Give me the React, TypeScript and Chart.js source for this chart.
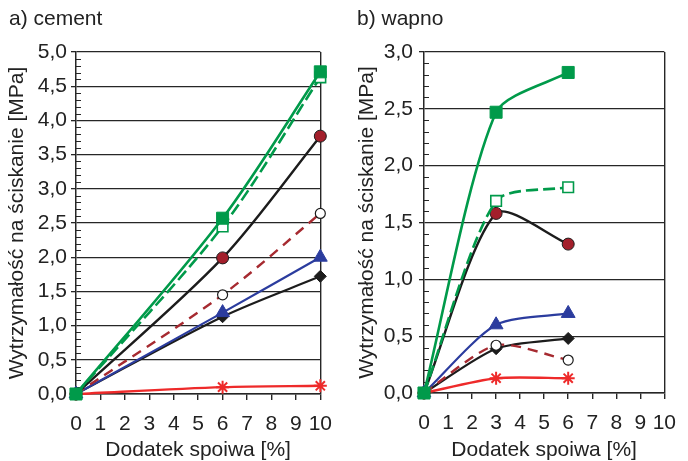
import React, { useEffect, useRef } from 'react';
import { Chart, registerables } from 'chart.js';

Chart.register(...registerables);

const FONT = "'Liberation Sans', Arial, Helvetica, sans-serif";

// ---- data ----
const xTickValues = [0, 1, 2, 3, 4, 5, 6, 7, 8, 9, 10];

const cementDose = [0, 6, 10];
const cementSquareFilled = [0, 2.57, 4.71];
const cementSquareOpen = [0, 2.45, 4.63];
const cementCircleFilled = [0, 1.99, 3.77];
const cementCircleOpen = [0, 1.45, 2.64];
const cementTriangle = [0, 1.19, 2.0];
const cementDiamond = [0, 1.13, 1.72];
const cementStar = [0, 0.1, 0.12];

const limeDose = [0, 3, 6];
const limeSquareFilled = [0, 2.47, 2.82];
const limeSquareOpen = [0, 1.69, 1.81];
const limeCircleFilled = [0, 1.58, 1.31];
const limeCircleOpen = [0, 0.42, 0.29];
const limeTriangle = [0, 0.6, 0.7];
const limeDiamond = [0, 0.39, 0.48];
const limeStar = [0, 0.13, 0.13];

const cementTitle = 'a) cement';
const limeTitle = 'b) wapno';
const yAxisTitle = 'Wytrzymałość na ściskanie [MPa]';
const xAxisTitle = 'Dodatek spoiwa [%]';

// ---- styles ----
const GREEN = '#009a4a';
const BLACK = '#1c1c1c';
const DARKRED = '#a31f2b';
const BROWN = '#a62a30';
const BLUE = '#2b3c9e';
const RED = '#ee2a2a';
const GRID = '#262626';
const TEXT = '#222222';
const FS = 21;

type Style = {
  line: string;
  dash: number[];
  width: number;
  marker: string;
  r: number;
  fill: string;
  border: string;
  borderW: number;
};

const styleSquareFilled: Style = { line: GREEN, dash: [], width: 2.6, marker: 'rect', r: 8.5, fill: GREEN, border: GREEN, borderW: 1 };
const styleSquareOpen: Style = { line: GREEN, dash: [12, 5], width: 2.6, marker: 'rect', r: 7.5, fill: '#ffffff', border: GREEN, borderW: 1.6 };
const styleCircleFilled: Style = { line: BLACK, dash: [], width: 2.4, marker: 'circle', r: 6, fill: DARKRED, border: BLACK, borderW: 1 };
const styleCircleOpen: Style = { line: BROWN, dash: [10, 7], width: 2.4, marker: 'circle', r: 5, fill: '#ffffff', border: BLACK, borderW: 1.2 };
const styleTriangle: Style = { line: BLUE, dash: [], width: 2.2, marker: 'triangle', r: 8, fill: BLUE, border: BLUE, borderW: 1 };
const styleDiamond: Style = { line: BLACK, dash: [], width: 2.2, marker: 'rectRot', r: 6, fill: BLACK, border: BLACK, borderW: 1 };
const styleStar: Style = { line: RED, dash: [], width: 2.4, marker: 'star', r: 6.5, fill: RED, border: RED, borderW: 2 };

function buildDatasets(xs: number[], seriesList: [string, number[], Style][], tension: number) {
  return seriesList.map(([label, ys, s]) => ({
    label,
    data: xs.map((x, i) => ({ x, y: ys[i] })),
    borderColor: s.line,
    borderWidth: s.width,
    borderDash: s.dash,
    backgroundColor: s.fill,
    pointStyle: s.marker,
    pointRadius: s.r,
    pointBackgroundColor: s.fill,
    pointBorderColor: s.border,
    pointBorderWidth: s.borderW,
    tension,
    fill: false,
    clip: false,
  }));
}

const MINOR_STEP = 0.1;
const MAJOR_STEP = 0.5;

const minorTickPlugin = {
  id: 'minorTicks',
  beforeDatasetsDraw(chart: any) {
    const y = chart.scales.y;
    const { left } = chart.chartArea;
    const ctx = chart.ctx;
    ctx.save();
    ctx.strokeStyle = GRID;
    ctx.lineWidth = 1;
    ctx.beginPath();
    for (let i = 1; i * MINOR_STEP < y.max - 1e-9; i++) {
      const v = i * MINOR_STEP;
      const q = v / MAJOR_STEP;
      if (Math.abs(q - Math.round(q)) < 1e-6) continue;
      const py = Math.round(y.getPixelForValue(v)) + 0.5;
      ctx.moveTo(left, py);
      ctx.lineTo(left + 5, py);
    }
    ctx.stroke();
    ctx.restore();
  },
};

type PanelProps = {
  title: string;
  datasets: any[];
  yMax: number;
  padLeft: number;
  padRight: number;
  yTitleLH: number;
  yLabelPad: number;
  xHeight: number;
};

function Panel(p: PanelProps) {
  const ref = useRef<HTMLCanvasElement | null>(null);
  useEffect(() => {
    if (!ref.current) return;
    const chart = new Chart(ref.current, {
      type: 'line',
      data: { datasets: p.datasets },
      plugins: [minorTickPlugin],
      options: {
        animation: false,
        responsive: false,
        devicePixelRatio: 1,
        layout: { padding: { left: p.padLeft, right: p.padRight, top: 0, bottom: 0 } },
        plugins: {
          legend: { display: false },
          tooltip: { enabled: false },
          title: {
            display: true,
            text: p.title,
            align: 'start',
            color: TEXT,
            font: { family: FONT, size: FS, weight: 'normal', lineHeight: 1.2 },
            padding: { top: 7, bottom: 19.8 },
          },
        },
        scales: {
          x: {
            type: 'linear',
            min: 0,
            max: 10,
            afterBuildTicks: (scale: any) => {
              scale.ticks = xTickValues.map((v) => ({ value: v }));
            },
            afterFit: (scale: any) => {
              scale.height = p.xHeight;
            },
            ticks: {
              color: TEXT,
              font: { family: FONT, size: FS },
              padding: 12,
              maxRotation: 0,
              autoSkip: false,
              callback: (v: any) => String(v),
            },
            grid: {
              color: (c: any) => (c.tick && c.tick.value === 10 ? GRID : 'rgba(0,0,0,0)'),
              tickColor: GRID,
              tickLength: 6,
              lineWidth: 1.4,
            },
            border: { display: true, color: GRID, width: 1.5 },
            title: {
              display: true,
              text: xAxisTitle,
              color: TEXT,
              font: { family: FONT, size: FS, lineHeight: 1.0 },
              padding: { top: 0, bottom: 0 },
            },
          },
          y: {
            type: 'linear',
            min: 0,
            max: p.yMax,
            afterFit: (scale: any) => {
              scale.width = 67;
            },
            ticks: {
              stepSize: MAJOR_STEP,
              color: TEXT,
              font: { family: FONT, size: FS },
              padding: p.yLabelPad,
              callback: (v: any) => Number(v).toFixed(1).replace('.', ','),
            },
            grid: {
              color: GRID,
              tickColor: GRID,
              tickLength: 5,
              lineWidth: 1.3,
            },
            border: { display: true, color: GRID, width: 1.5 },
            title: {
              display: true,
              text: yAxisTitle,
              color: TEXT,
              font: { family: FONT, size: FS, lineHeight: p.yTitleLH },
              padding: { top: 0, bottom: 0 },
            },
          },
        },
      } as any,
    });
    return () => chart.destroy();
  }, []);
  return <canvas ref={ref} width={344} height={461} style={{ display: 'block', width: 344, height: 461 }} />;
}

const cementDatasets = buildDatasets(cementDose, [
  ['squareFilled', cementSquareFilled, styleSquareFilled],
  ['squareOpen', cementSquareOpen, styleSquareOpen],
  ['circleFilled', cementCircleFilled, styleCircleFilled],
  ['circleOpen', cementCircleOpen, styleCircleOpen],
  ['triangle', cementTriangle, styleTriangle],
  ['diamond', cementDiamond, styleDiamond],
  ['star', cementStar, styleStar],
], 0.3);

const limeDatasets = buildDatasets(limeDose, [
  ['squareFilled', limeSquareFilled, styleSquareFilled],
  ['squareOpen', limeSquareOpen, styleSquareOpen],
  ['circleFilled', limeCircleFilled, styleCircleFilled],
  ['circleOpen', limeCircleOpen, styleCircleOpen],
  ['triangle', limeTriangle, styleTriangle],
  ['diamond', limeDiamond, styleDiamond],
  ['star', limeStar, styleStar],
], 0.25);

export default function App() {
  return (
    <div style={{ position: 'absolute', left: 0, top: 0, width: 688, height: 461, display: 'flex', background: '#fff' }}>
      <Panel title={cementTitle} datasets={cementDatasets} yMax={5} padLeft={9} padRight={22} yTitleLH={0.81} yLabelPad={4} xHeight={67} />
      <Panel title={limeTitle} datasets={limeDatasets} yMax={3} padLeft={13} padRight={17} yTitleLH={1.0} yLabelPad={6} xHeight={68} />
    </div>
  );
}
